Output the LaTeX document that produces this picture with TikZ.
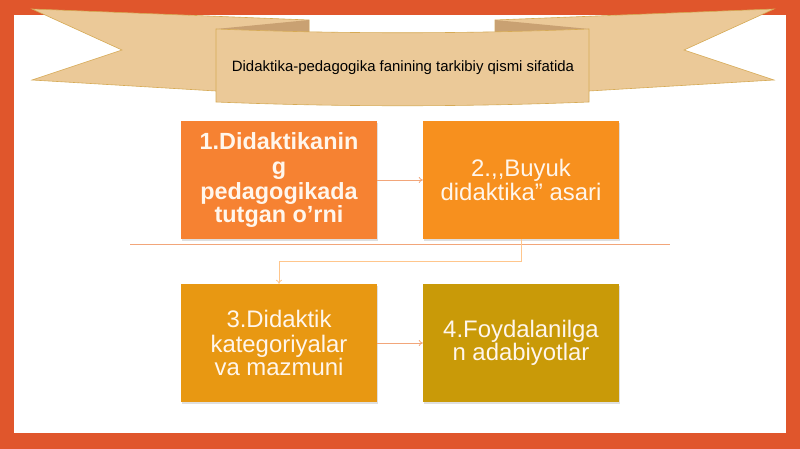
\documentclass[tikz,border=0pt]{standalone}
\usepackage{fontspec}
\setmainfont{Liberation Sans}
\usetikzlibrary{shadows,arrows.meta}

\definecolor{framecol}{HTML}{E0562C}
\definecolor{ribbon}{HTML}{EBC998}
\definecolor{ribbonedge}{HTML}{D6AA55}
\definecolor{ribbonfold}{HTML}{C9A172}
\definecolor{boxa}{HTML}{F68232}
\definecolor{boxb}{HTML}{F7901E}
\definecolor{boxc}{HTML}{E89812}
\definecolor{boxd}{HTML}{C99A08}
\definecolor{linkcol}{HTML}{F2A67A}
\definecolor{cream}{HTML}{FFF6EC}

\newcommand{\topicfont}[2]{\fontsize{#1}{#2}\selectfont\spaceskip=.278em\relax}

\tikzset{
    topic/.style={fill=#1, minimum width=196bp, minimum height=118bp,
        text width=186bp, align=center, text=cream, inner sep=0pt,
        drop shadow={shadow xshift=1bp, shadow yshift=-2bp, opacity=0.25}},
    link/.style={draw=linkcol, line width=0.8bp, -{To[length=4bp,width=6bp]}},
}

\begin{document}
\begin{tikzpicture}[x=1bp,y=-1bp]
        % frame
        \fill[framecol] (0,0) rectangle (800,449);
        \fill[white] (14,15) rectangle (786,433);
        % ribbon
        \filldraw[fill=ribbon, draw=ribbonedge, line width=0.6bp]
            (32,9) -- (309,20) -- (309,92) -- (216,91) -- (32,80) -- (122,50) -- cycle;
        \filldraw[fill=ribbon, draw=ribbonedge, line width=0.6bp]
            (774,9) -- (495,20) -- (495,92) -- (589,91) -- (774,80) -- (684,50) -- cycle;
        \fill[ribbonfold] (216,29) -- (309,20) -- (309,32) -- cycle;
        \fill[ribbonfold] (589,29) -- (495,20) -- (495,32) -- cycle;
        \filldraw[fill=ribbon, draw=ribbonedge, line width=0.6bp]
            (216,29) .. controls (340,34) and (465,34) .. (589,29)
            -- (589,102) .. controls (465,107) and (340,107) .. (216,102) -- cycle;
        \node (title) at (403,68) {\fontsize{15}{18}\selectfont Didaktika-pedagogika fanining tarkibiy qismi sifatida};
        % boxes
        \node[topic=boxa] (b1) at (279,180)
            {\topicfont{23.5}{25.5}\bfseries 1.Didaktikanin\\g\\pedagogikada\\tutgan o’rni};
        \node[topic=boxb] (b2) at (521,180)
            {\topicfont{24}{25}2.,{},Buyuk\\didaktika” asari};
        \node[topic=boxc] (b3) at (279,343)
            {\topicfont{24}{25}3.Didaktik\\kategoriyalar\\va mazmuni};
        \node[topic=boxd] (b4) at (521,343)
            {\topicfont{24}{25}4.Foydalanilga\\n adabiyotlar};
        \draw[draw=linkcol, line width=0.8bp] (130,244) -- (670,244);
        % links
        \coordinate (bend) at (521,261);
        \draw[link] (b1) -- (b2);
        \draw[link, draw=orange!45] (b2.south) -- (bend) -| (b3.north);
        \draw[link] (b3) -- (b4);
    \end{tikzpicture}
\end{document}
